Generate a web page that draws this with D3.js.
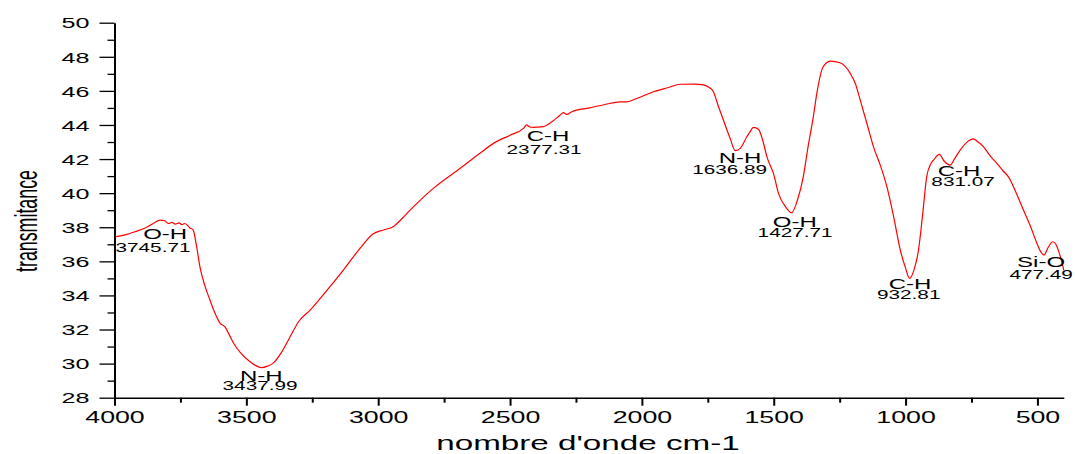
<!DOCTYPE html>
<html>
<head>
<meta charset="utf-8">
<script src="https://cdn.jsdelivr.net/npm/d3@7"></script>
<style>
  html, body { margin: 0; padding: 0; background: #fff; }
  svg { display: block; font-family: "Liberation Sans", Arial, sans-serif; }
</style>
</head>
<body>
<svg id="chart" width="1075" height="454"></svg>
<script>
// ---- data ----
const wavenumbers = [4000,3960,3920,3884,3850,3827,3810,3795,3782,3770,3755,3745,3733,3714,3702,3690,3676,3658,3638,3620,3600,3581,3565,3549,3520,3486,3460,3442,3420,3398,3365,3334,3300,3258,3200,3132,3069,3020,2980,2943,2910,2879,2791,2689,2614,2563,2500,2449,2437,2425,2412,2374,2340,2310,2298,2285,2266,2200,2140,2083,2057,2020,1956,1900,1855,1800,1767,1745,1729,1710,1691,1665,1646,1627,1602,1590,1577,1558,1540,1526,1500,1482,1455,1432,1410,1388,1370,1350,1335,1318,1300,1286,1249,1210,1190,1172,1145,1122,1095,1071,1045,1020,1000,985,968,951,935,920,905,894,872,855,831,815,793,770,743,725,705,680,654,630,610,580,553,525,502,485,475,460,442,430,421,410,400];
const transmittance = [37.43,37.55,37.75,37.96,38.25,38.42,38.38,38.22,38.28,38.18,38.26,38.15,38.22,37.96,37.84,37.0,35.68,34.6,33.73,33.0,32.38,32.16,31.7,31.21,30.6,30.11,29.85,29.76,29.85,30.03,30.7,31.58,32.5,33.14,34.2,35.49,36.76,37.6,37.84,38.03,38.5,39.0,40.28,41.46,42.34,42.92,43.4,43.8,44.0,43.88,43.86,43.9,44.2,44.58,44.72,44.62,44.78,45.0,45.2,45.36,45.36,45.55,45.95,46.2,46.39,46.4,46.35,46.2,45.95,45.1,44.29,43.2,42.49,42.63,43.31,43.6,43.86,43.75,43.0,42.14,41.1,39.99,39.2,38.85,39.6,40.96,42.7,44.48,46.0,47.22,47.65,47.75,47.65,47.03,46.4,45.46,44.0,42.73,41.6,40.38,38.6,36.66,35.6,35.0,35.5,36.66,38.8,40.96,41.7,41.94,42.28,41.9,41.65,42.0,42.53,42.95,43.18,43.0,42.73,42.2,41.75,41.3,40.96,40.0,39.01,38.0,37.06,36.5,36.37,36.8,37.15,37.0,36.66,36.1,35.49];

// peak annotations: group name, reported value, and where each line sits (data units)
const peakNames  = ["O-H","N-H","C-H","N-H","O-H","C-H","C-H","Si-O"];
const peakLabels = ["3745.71","3437.99","2377.31","1636.89","1427.71","932.81","831.07","477.49"];
const peakNameW  = [3808,3443,2356,1628,1420,983,797,486];
const peakNameT  = [37.31,28.98,43.06,41.75,38.03,34.36,41.0,35.65];
const peakLabelW = [3854,3448,2371,1667,1419,988,782,486];
const peakLabelT = [36.55,28.45,42.30,41.12,37.41,33.77,40.41,34.95];

const xMajorTicks = [4000,3500,3000,2500,2000,1500,1000,500];
const xMinorTicks = [3750,3250,2750,2250,1750,1250,750];
const yMajorTicks = [28,30,32,34,36,38,40,42,44,46,48,50];
const yMinorTicks = [29,31,33,35,37,39,41,43,45,47,49];

const xTitle = "nombre d'onde cm-1";
const yTitle = "transmitance";

// ---- drawing ----
const SX = 1.62; // horizontal stretch of the original figure's text
const svg = d3.select("#chart");
const x = d3.scaleLinear().domain([4000, 400]).range([114.5, 1063.8]);
const y = d3.scaleLinear().domain([28, 50]).range([397.7, 22.7]);

function stretch(sel) {
  sel.each(function () {
    const L = this.getComputedTextLength();
    this.setAttribute("textLength", (L * SX).toFixed(2));
    this.setAttribute("lengthAdjust", "spacingAndGlyphs");
  });
}

// curve
const pts = wavenumbers.map((w, i) => [w, transmittance[i]]);
const line = d3.line().x(d => x(d[0])).y(d => y(d[1])).curve(d3.curveMonotoneX);
svg.append("path").datum(pts)
  .attr("d", line)
  .attr("fill", "none")
  .attr("stroke", "#ff0000")
  .attr("stroke-width", 1.2);

// x axis
const gx = svg.append("g").attr("transform", `translate(0,${y(28)})`);
gx.call(d3.axisBottom(x).tickValues(xMajorTicks).tickSize(8).tickSizeOuter(0).tickFormat(d3.format("d")));
gx.append("g").call(d3.axisBottom(x).tickValues(xMinorTicks).tickSize(5).tickFormat(""))
  .select(".domain").remove();
gx.select(".domain").attr("stroke-width", 1.4);
gx.selectAll(".tick line").attr("stroke-width", 2);
gx.selectAll(".tick text")
  .attr("y", 25).attr("dy", 0)
  .attr("font-size", 16.5)
  .attr("font-family", "Liberation Sans, Arial, sans-serif")
  .attr("fill", "#000")
  .call(stretch);

// y axis
const gy = svg.append("g").attr("transform", `translate(${x(4000)},0)`);
gy.call(d3.axisLeft(y).tickValues(yMajorTicks).tickSize(15).tickSizeOuter(0).tickPadding(10).tickFormat(d3.format("d")));
gy.append("g").call(d3.axisLeft(y).tickValues(yMinorTicks).tickSize(7).tickFormat(""))
  .select(".domain").remove();
gy.select(".domain").attr("stroke-width", 2);
gy.selectAll(".tick line").attr("stroke-width", 1.3);
gy.selectAll(".tick text")
  .attr("font-size", 15.5)
  .attr("dy", "0.34em")
  .attr("font-family", "Liberation Sans, Arial, sans-serif")
  .attr("fill", "#000")
  .call(stretch);

// annotations
peakNames.forEach((nm, i) => {
  svg.append("text").attr("x", x(peakNameW[i])).attr("y", y(peakNameT[i]))
    .attr("text-anchor", "middle").attr("font-size", 14.8).attr("fill", "#000")
    .text(nm).call(stretch);
  svg.append("text").attr("x", x(peakLabelW[i])).attr("y", y(peakLabelT[i]))
    .attr("text-anchor", "middle").attr("font-size", 12.8).attr("fill", "#000")
    .text(peakLabels[i]).call(stretch);
});

// axis titles
svg.append("text").attr("x", 588).attr("y", 450)
  .attr("text-anchor", "middle").attr("font-size", 20.5).attr("fill", "#000")
  .text(xTitle).call(stretch);

svg.append("text")
  .attr("transform", `translate(36.5,221) scale(1.75,1) rotate(-90)`)
  .attr("text-anchor", "middle").attr("font-size", 17.8).attr("fill", "#000")
  .text(yTitle);
</script>
</body>
</html>
